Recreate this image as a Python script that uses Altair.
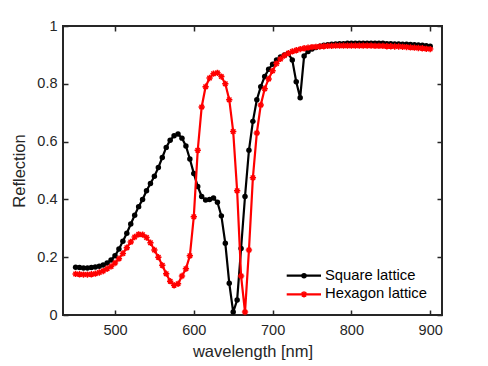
import altair as alt
import pandas as pd

wavelength = [450, 455, 460, 465, 470, 475, 480, 485, 490, 495,
              500, 505, 510, 515, 520, 525, 530, 535, 540, 545,
              550, 555, 560, 565, 570, 575, 580, 585, 590, 595,
              600, 605, 610, 615, 620, 625, 630, 635, 640, 645,
              650, 655, 660, 665, 670, 675, 680, 685, 690, 695,
              700, 705, 710, 715, 720, 725, 730, 735, 740, 745,
              750, 755, 760, 765, 770, 775, 780, 785, 790, 795,
              800, 805, 810, 815, 820, 825, 830, 835, 840, 845,
              850, 855, 860, 865, 870, 875, 880, 885, 890, 895,
              900]

square = [0.165, 0.164, 0.163, 0.163, 0.164, 0.166, 0.169, 0.173, 0.180, 0.190,
          0.205, 0.228, 0.255, 0.283, 0.315, 0.345, 0.375, 0.400, 0.430, 0.455,
          0.480, 0.510, 0.545, 0.580, 0.605, 0.620, 0.626, 0.612, 0.585, 0.540,
          0.490, 0.445, 0.410, 0.398, 0.400, 0.405, 0.390, 0.343, 0.248, 0.110,
          0.010, 0.052, 0.230, 0.410, 0.570, 0.670, 0.745, 0.790, 0.825, 0.850,
          0.868, 0.882, 0.893, 0.900, 0.905, 0.882, 0.807, 0.752, 0.896, 0.912,
          0.920, 0.926, 0.930, 0.933, 0.935, 0.937, 0.938, 0.939, 0.939, 0.940,
          0.940, 0.940, 0.940, 0.940, 0.940, 0.940, 0.940, 0.940, 0.940, 0.939,
          0.939, 0.938, 0.938, 0.937, 0.937, 0.936, 0.935, 0.934, 0.933, 0.932,
          0.930]

hexagon = [0.142, 0.141, 0.140, 0.140, 0.141, 0.143, 0.147, 0.152, 0.160, 0.168,
           0.180, 0.195, 0.213, 0.233, 0.253, 0.270, 0.279, 0.278, 0.268, 0.250,
           0.225, 0.200, 0.172, 0.143, 0.117, 0.103, 0.108, 0.135, 0.160, 0.205,
           0.340, 0.570, 0.720, 0.790, 0.820, 0.835, 0.838, 0.825, 0.800, 0.745,
           0.635, 0.430, 0.135, 0.010, 0.225, 0.475, 0.630, 0.727, 0.783, 0.817,
           0.845, 0.870, 0.886, 0.898, 0.906, 0.912, 0.916, 0.920, 0.923, 0.925,
           0.927, 0.928, 0.929, 0.930, 0.931, 0.931, 0.932, 0.932, 0.932, 0.932,
           0.932, 0.932, 0.932, 0.932, 0.932, 0.932, 0.931, 0.931, 0.931, 0.930,
           0.930, 0.929, 0.929, 0.928, 0.927, 0.926, 0.925, 0.924, 0.923, 0.921,
           0.920]

series_names = ["Square lattice", "Hexagon lattice"]
x_ticks = [500, 600, 700, 800, 900]
y_ticks = [0, 0.2, 0.4, 0.6, 0.8, 1]

FONT = "Liberation Sans"
AX = "#262626"
W, H = 379, 289
ASTER = "M-1,0L1,0M0,-1L0,1M-0.7,-0.7L0.7,0.7M-0.7,0.7L0.7,-0.7"

df_sq = pd.DataFrame({"wavelength": wavelength, "R": square})
df_hx = pd.DataFrame({"wavelength": wavelength, "R": hexagon})

x_scale = alt.Scale(domain=[434, 915], nice=False, zero=False)
y_scale = alt.Scale(domain=[0, 1], nice=False, zero=False)

x_main = alt.X("wavelength:Q", scale=x_scale,
               axis=alt.Axis(values=x_ticks, domain=False, tickSize=5, offset=-5,
                             labelPadding=8, grid=False, title="wavelength [nm]",
                             titlePadding=7))
y_main = alt.Y("R:Q", scale=y_scale,
               axis=alt.Axis(values=y_ticks, format="~g", domain=False, tickSize=5,
                             offset=-5, labelPadding=6, grid=False, title="Reflection",
                             titlePadding=9))
x_none = alt.X("wavelength:Q", scale=x_scale, axis=None)
y_none = alt.Y("R:Q", scale=y_scale, axis=None)

sq_line = alt.Chart(df_sq).mark_line(color="black", strokeWidth=2.2).encode(x=x_main, y=y_main)
sq_pts = alt.Chart(df_sq).mark_point(shape="circle", filled=True, size=30, color="black",
                                     opacity=1).encode(x=x_none, y=y_none)
hx_line = alt.Chart(df_hx).mark_line(color="red", strokeWidth=2.2).encode(x=x_none, y=y_none)
hx_pts = alt.Chart(df_hx).mark_point(shape=ASTER, filled=False, size=40, color="red",
                                     strokeWidth=1.5, opacity=1).encode(x=x_none, y=y_none)

frame_axes = alt.Chart(df_sq).mark_point(opacity=0).encode(
    x=alt.X("wavelength:Q", scale=x_scale,
            axis=alt.Axis(orient="top", values=x_ticks, labels=False, title=None,
                          domain=False, tickSize=5, offset=-5, grid=False)),
    y=alt.Y("R:Q", scale=y_scale,
            axis=alt.Axis(orient="right", values=y_ticks, labels=False, title=None,
                          domain=False, tickSize=5, offset=-5, grid=False)),
)

# legend (inside, bottom right)
leg_layers = []
for name, col, ypos in [(series_names[0], "black", 249.7), (series_names[1], "red", 268.3)]:
    ld = pd.DataFrame({"label": [name]})
    leg_layers.append(alt.Chart(ld).mark_rule(color=col, strokeWidth=2.2).encode(
        x=alt.value(223.7), x2=alt.value(258), y=alt.value(ypos)))
    if col == "black":
        leg_layers.append(alt.Chart(ld).mark_point(shape="circle", filled=True, size=30,
                                                   color=col, opacity=1).encode(
            x=alt.value(241), y=alt.value(ypos)))
    else:
        leg_layers.append(alt.Chart(ld).mark_point(shape=ASTER, filled=False, size=40,
                                                   color=col, strokeWidth=1.5, opacity=1).encode(
            x=alt.value(241), y=alt.value(ypos)))
    leg_layers.append(alt.Chart(ld).mark_text(align="left", baseline="middle", font=FONT,
                                              fontSize=14.8, color="black").encode(
        text="label:N", x=alt.value(262), y=alt.value(ypos)))

chart = alt.layer(sq_line, sq_pts, hx_line, hx_pts, frame_axes, *leg_layers).resolve_axis(
    x="independent", y="independent"
).properties(
    width=W, height=H,
    padding={"left": 55, "top": 18, "right": 38, "bottom": 60},
    autosize=alt.AutoSizeParams(type="none"),
    background="white",
).configure_view(
    stroke=AX, strokeWidth=2
).configure_axis(
    labelFont=FONT, labelFontSize=14.5, labelColor=AX,
    titleFont=FONT, titleFontSize=16.5, titleColor=AX, titleFontWeight="normal",
    tickColor=AX, tickWidth=1.5,
)

chart.save("out.html", embed_options={"renderer": "svg", "actions": False})
